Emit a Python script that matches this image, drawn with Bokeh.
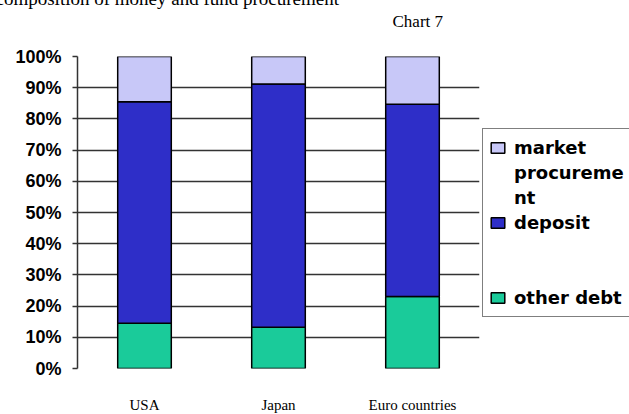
from bokeh.plotting import figure
from bokeh.models import (ColumnDataSource, FactorRange, NumeralTickFormatter,
                          Legend, LegendItem, Label, FixedTicker)
from bokeh.embed import file_html
from bokeh.resources import INLINE

# Shares of fund procurement by region (fractions of total)
regions = ["USA", "Japan", "Euro countries"]
other_debt = [0.145, 0.132, 0.231]
deposit = [0.710, 0.780, 0.616]
market_procurement = [0.145, 0.088, 0.153]

series = ["other_debt", "deposit", "market_procurement"]
colors = ["#1ACB9A", "#2E2EC8", "#C8C8F8"]
y_ticks = [i / 10 for i in range(11)]

source = ColumnDataSource(dict(region=regions, other_debt=other_debt,
                               deposit=deposit,
                               market_procurement=market_procurement))

p = figure(frame_width=402, frame_height=312, x_range=FactorRange(*regions),
           y_range=(0, 1), output_backend="svg", toolbar_location=None,
           min_border_left=77, min_border_right=150, min_border_top=56,
           min_border_bottom=46, outline_line_color=None)
p.x_range.range_padding = 0

renderers = dict(zip(series, p.vbar_stack(
    series, x="region", width=0.4, source=source, color=colors,
    line_color="black", line_width=1.5)))

# y axis: percentages with short outward ticks
p.yaxis.ticker = FixedTicker(ticks=y_ticks)
p.yaxis.formatter = NumeralTickFormatter(format="0%")
p.yaxis.major_label_text_font = "Liberation Sans"
p.yaxis.major_label_text_font_style = "bold"
p.yaxis.major_label_text_font_size = "18px"
p.yaxis.major_label_text_color = "black"
p.yaxis.major_label_standoff = 11
p.yaxis.axis_line_color = "#333333"
p.yaxis.axis_line_width = 1.5
p.yaxis.major_tick_line_color = "#333333"
p.yaxis.major_tick_line_width = 1.5
p.yaxis.major_tick_out = 5
p.yaxis.major_tick_in = 0
p.yaxis.minor_tick_line_color = None

# x axis: region names well below the baseline
p.xaxis.axis_line_color = None
p.xaxis.major_tick_line_color = None
p.xaxis.major_tick_out = 0
p.xaxis.major_label_text_font = "Liberation Serif"
p.xaxis.major_label_text_font_size = "15px"
p.xaxis.major_label_text_color = "black"
p.xaxis.major_label_standoff = 28

p.xgrid.grid_line_color = None
p.ygrid.ticker = FixedTicker(ticks=y_ticks)
p.ygrid.grid_line_color = "#333333"
p.ygrid.grid_line_width = 1.5

# legend rows: the long label wraps over three rows, two empty rows
# separate "deposit" from "other debt"
rows = [("market", "market_procurement"), ("procureme", None), ("nt", None),
        ("deposit", "deposit"), (" ", None), (" ", None),
        ("other debt", "other_debt")]
items = [LegendItem(label=text, renderers=[renderers[key]] if key else [])
         for text, key in rows]
legend = Legend(items=items, location=(3, 51),
                label_text_font="DejaVu Sans", label_text_font_size="18px",
                label_text_font_style="bold", label_text_color="black",
                glyph_width=17, glyph_height=13, label_height=25,
                label_standoff=8, padding=6, spacing=0, margin=2,
                border_line_color="black", border_line_width=1.2,
                background_fill_color="white", background_fill_alpha=1)
p.add_layout(legend, "right")

# heading texts in the band above the plot
p.add_layout(Label(x=-82, y=58, x_units="screen", y_units="screen",
                   text="composition of money and fund procurement",
                   text_baseline="alphabetic",
                   text_font="Liberation Serif", text_font_size="19px",
                   text_color="black"), "above")
p.add_layout(Label(x=315, y=14, x_units="screen", y_units="screen",
                   text="Chart 7", text_font="Liberation Serif",
                   text_baseline="alphabetic",
                   text_font_size="17px", text_color="black"), "above")

open("out.html", "w").write(file_html(p, INLINE))
